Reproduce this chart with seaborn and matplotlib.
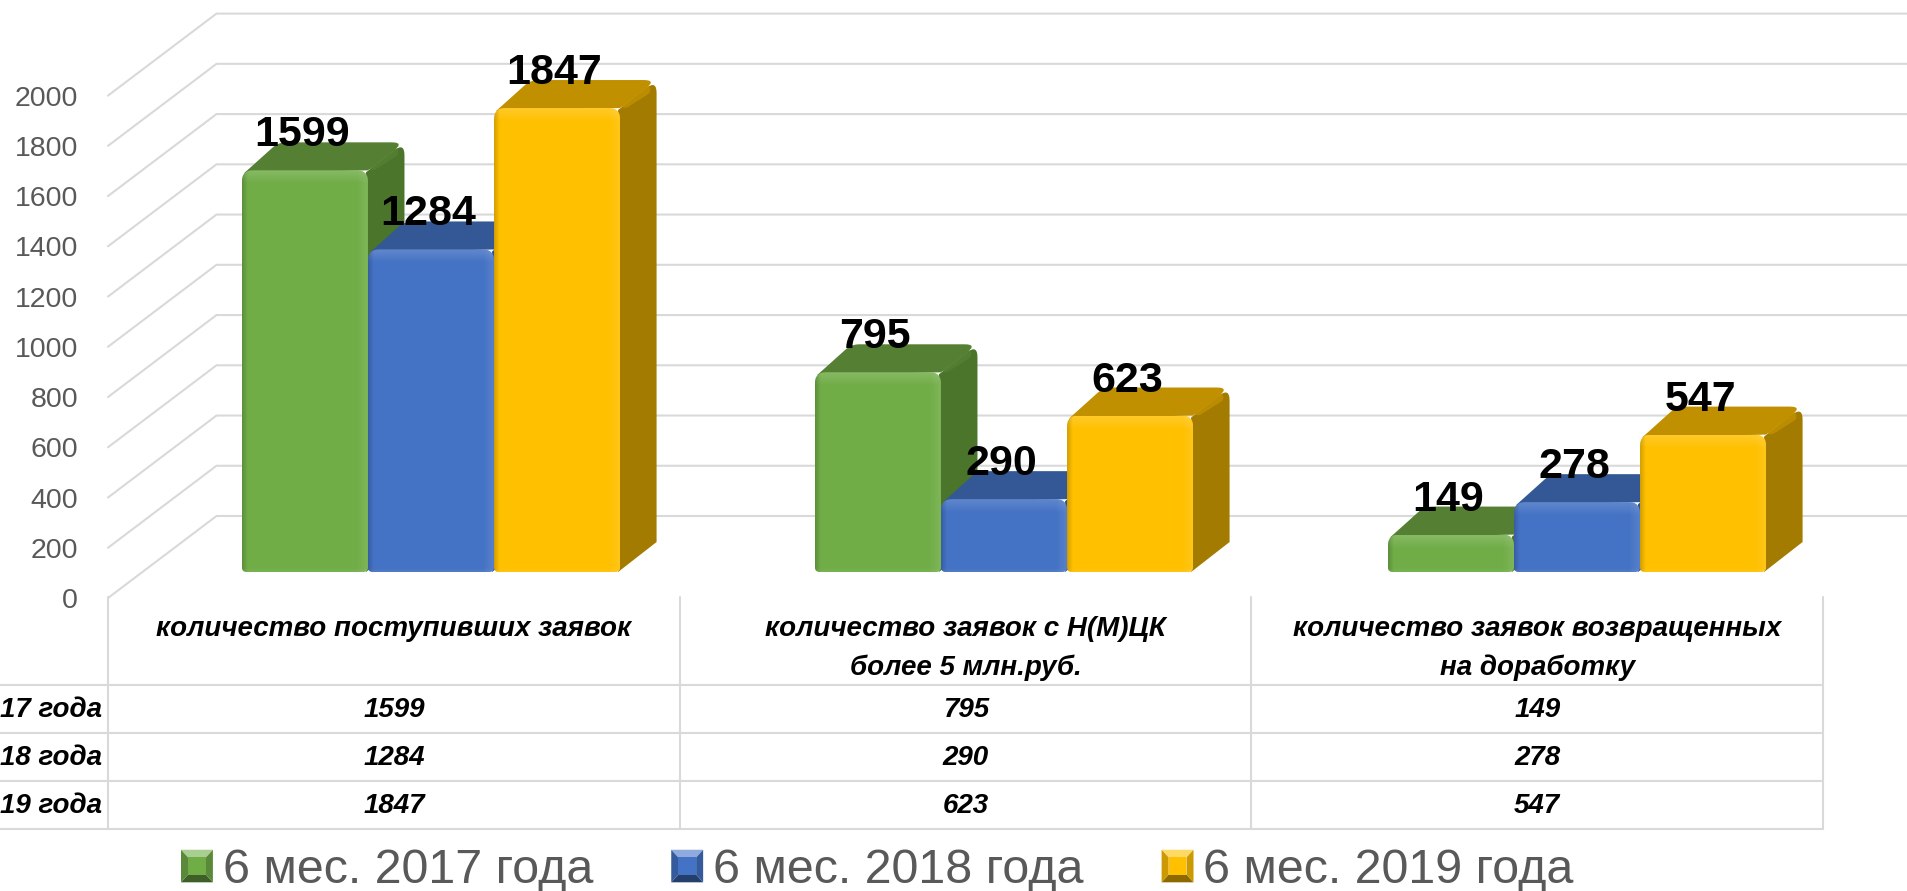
import numpy as np
import pandas as pd
import matplotlib
matplotlib.use("Agg")
import matplotlib.pyplot as plt
import seaborn as sns
from matplotlib.patches import Polygon, Rectangle
from matplotlib.legend_handler import HandlerBase
from matplotlib.colors import to_rgb

# ---------- data ----------
categories = ["количество поступивших заявок",
              "количество заявок с Н(М)ЦК\nболее 5 млн.руб.",
              "количество заявок возвращенных\nна доработку"]
series = ["6 мес. 2017 года", "6 мес. 2018 года", "6 мес. 2019 года"]
values_2017 = [1599, 795, 149]
values_2018 = [1284, 290, 278]
values_2019 = [1847, 623, 547]
y_ticks = [0, 200, 400, 600, 800, 1000, 1200, 1400, 1600, 1800, 2000]

colors = ["#70AD47", "#4472C4", "#FFC000"]
top_colors = ["#557F33", "#335895", "#C09000"]
side_colors = ["#4A752B", "#2F5597", "#A37B00"]

W, H = 1908, 891
sns.set_theme(style="white")
plt.rcParams["font.family"] = ["Liberation Sans", "DejaVu Sans"]

# ---------- geometry (pixels of the figure) ----------
CAT_PX = 573.0      # pixels per category
GROUP0_PX = 431.0   # centre of first group
BASE_PX = 572.0     # baseline of bars
VAL_PX = 0.2512     # pixels per value unit
DEPTH_X, DEPTH_Y = 36.5, 28.0
FRONT_X, FRONT_Y = 108.0, 598.0
BACK_X, BACK_Y = 216.5, 516.0

fig = plt.figure(figsize=(W / 100, H / 100), dpi=100, facecolor="white")
ax = fig.add_axes([0, 0, 1, 1], zorder=2)
ax.patch.set_alpha(0)

df = pd.DataFrame({
    "category": np.repeat(categories, 3),
    "period": series * 3,
    "value": [v for trio in zip(values_2017, values_2018, values_2019) for v in trio],
})
sns.barplot(data=df, x="category", y="value", hue="period", order=categories,
            hue_order=series, palette=colors, width=0.66, gap=0, dodge=True,
            saturation=1, legend=False, ax=ax, linewidth=0)

xlim = (-GROUP0_PX / CAT_PX, (W - GROUP0_PX) / CAT_PX)
ylim = ((BASE_PX - H) / VAL_PX, BASE_PX / VAL_PX)


def to_x(px):
    return (np.asarray(px, float) - GROUP0_PX) / CAT_PX


def to_v(py):
    return (BASE_PX - np.asarray(py, float)) / VAL_PX


def rounded(corners, radii, n=8):
    """Polygon vertices (in px) with rounded corners."""
    pts = []
    m = len(corners)
    for i in range(m):
        p = np.array(corners[i], float)
        a = np.array(corners[i - 1], float)
        b = np.array(corners[(i + 1) % m], float)
        r = radii[i]
        if r <= 0:
            pts.append(p)
            continue
        u = (a - p) / np.linalg.norm(a - p)
        w = (b - p) / np.linalg.norm(b - p)
        s, e = p + u * r, p + w * r
        for t in np.linspace(0, 1, n):
            pts.append((1 - t) ** 2 * s + 2 * (1 - t) * t * p + t ** 2 * e)
    return np.array(pts)


def px2data(pts):
    return np.column_stack([to_x(pts[:, 0]), to_v(pts[:, 1])])


def strip(x0, x1, y0, y1, color, a0, a1, horizontal, z, clip):
    """Gradient band (px box) fading from alpha a0 to a1."""
    n = 24
    ramp = np.linspace(a0, a1, n)
    img = np.zeros((1, n, 4)) if horizontal else np.zeros((n, 1, 4))
    img[..., :3] = to_rgb(color)
    img[..., 3] = ramp if horizontal else ramp.reshape(n, 1)
    im = ax.imshow(img, extent=(to_x(x0), to_x(x1), to_v(y1), to_v(y0)),
                   origin="upper", aspect="auto", zorder=z, interpolation="bilinear")
    im.set_clip_path(clip)


# ---------- back wall, gridlines ----------
for v in y_ticks:
    yf = FRONT_Y - v * VAL_PX
    yb = BACK_Y - v * VAL_PX
    ax.plot([to_x(FRONT_X), to_x(BACK_X), to_x(W)], [to_v(yf), to_v(yb), to_v(yb)],
            color="#D9D9D9", lw=1.5, zorder=1, solid_joinstyle="miter")

# ---------- 3-D bars ----------
for i, bar in enumerate(ax.patches):
    k = i // 3  # series index (seaborn orders the patches by hue)
    x0 = GROUP0_PX + bar.get_x() * CAT_PX
    x1 = x0 + bar.get_width() * CAT_PX
    val = bar.get_height()
    yt = BASE_PX - val * VAL_PX
    yb = BASE_PX
    z = 3 + k * 4

    # top and side faces
    r_top = min(11, (yb - yt) / 3)
    top = [(x0 + 2, yt + 3), (x0 + DEPTH_X, yt - DEPTH_Y), (x1 + DEPTH_X, yt - DEPTH_Y), (x1, yt)]
    ax.add_patch(Polygon(px2data(rounded(top, [0, 8, 13, 0])), closed=True,
                         fc=top_colors[k], ec="none", zorder=z))
    side = [(x1 - 2, yt + 2), (x1 + DEPTH_X, yt - DEPTH_Y), (x1 + DEPTH_X, yb - DEPTH_Y - 2), (x1 - 2, yb)]
    ax.add_patch(Polygon(px2data(rounded(side, [0, 13, 0, 0])), closed=True,
                         fc=side_colors[k], ec="none", zorder=z))
    # soft bevel between top and side
    ax.plot([to_x(x1 + 5), to_x(x1 + DEPTH_X - 11)], [to_v(yt - 5), to_v(yt - DEPTH_Y + 10)],
            color=top_colors[k], lw=7, alpha=0.85, zorder=z + 0.1, solid_capstyle="round")

    # front face drawn by seaborn, with rounded corners and bevel bands
    front = rounded([(x0, yt), (x1, yt), (x1, yb), (x0, yb)], [r_top, r_top, 5, 5])
    clip = Polygon(px2data(front), closed=True, transform=ax.transData)
    bar.set_zorder(z + 1)
    bar.set_clip_path(clip)
    strip(x0, x1, yt, yt + 14, "#FFFFFF", 0.16, 0.0, False, z + 1.1, clip)
    strip(x1 - 12, x1, yt, yb, "#FFFFFF", 0.0, 0.10, True, z + 1.2, clip)
    strip(x0, x0 + 6, yt, yb, "#000000", 0.18, 0.0, True, z + 1.3, clip)
    strip(x0, x1, yb - 4, yb, "#FFFFFF", 0.0, 0.08, False, z + 1.4, clip)

    ax.annotate(f"{val:.0f}", (to_x((x0 + x1) / 2), to_v(yt)),
                xytext=(-3 * 0.72, 35 * 0.72), textcoords="offset points",
                ha="center", va="center", fontsize=31, fontweight="bold",
                color="black", zorder=30)

ax.set_xlim(*xlim)
ax.set_ylim(*ylim)
ax.axis("off")

# ---------- value axis on the front plane ----------
yax = fig.add_axes([FRONT_X / W, (H - FRONT_Y) / H, 0.01, 2000 * VAL_PX / H], zorder=1)
yax.set_ylim(0, 2000)
yax.set_yticks(y_ticks)
yax.set_xticks([])
yax.patch.set_alpha(0)
for s in yax.spines.values():
    s.set_visible(False)
yax.tick_params(axis="y", length=0, pad=30 * 0.72, labelsize=20.5, labelcolor="#595959")

# ---------- data table ----------
tx = fig.add_axes([0, 0, 1, 1], zorder=3)
tx.set_xlim(0, W)
tx.set_ylim(H, 0)
tx.axis("off")
col_edges = [108, 680, 1251.5, 1823]
row_edges = [597, 685, 733, 781, 829]
grid = dict(color="#D9D9D9", lw=1.5)
for xe in col_edges:
    tx.plot([xe, xe], [row_edges[0], row_edges[-1]], **grid)
for ye in row_edges[1:]:
    tx.plot([0, col_edges[-1]], [ye, ye], **grid)
tkw = dict(ha="center", va="center", fontsize=20, fontweight="bold", fontstyle="italic",
           color="black")
for c, cat in enumerate(categories):
    xc = (col_edges[c] + col_edges[c + 1]) / 2
    for l, line in enumerate(cat.split("\n")):
        tx.text(xc, 629 + 39 * l, line, **tkw)
    for r, vals in enumerate([values_2017, values_2018, values_2019]):
        tx.text(xc, (row_edges[r + 1] + row_edges[r + 2]) / 2 + 1, str(vals[c]), **tkw)
for r, name in enumerate(series):
    tx.text(102, (row_edges[r + 1] + row_edges[r + 2]) / 2 + 1, name,
            **{**tkw, "ha": "right"})


# ---------- legend with bevelled keys ----------
class BevelHandler(HandlerBase):
    def create_artists(self, legend, orig, xd, yd, width, height, fontsize, trans):
        x0, y0, x1, y1 = -xd, -yd, -xd + width, -yd + height
        c = np.array(to_rgb(orig.get_facecolor()))
        m = min(width, height) * 0.22
        xa, xb = x0 + m, x1 - m
        ya, yb = y0 + m * 1.1, y1 - m * 1.1
        faces = [
            ([(x0, y1), (x1, y1), (xb, yb), (xa, yb)], c * 0.6 + 0.4),
            ([(x0, y0), (x1, y0), (xb, ya), (xa, ya)], c * 0.55),
            ([(x0, y0), (x0, y1), (xa, yb), (xa, ya)], c * 0.8),
            ([(x1, y0), (x1, y1), (xb, yb), (xb, ya)], c * 0.8),
            ([(xa, ya), (xb, ya), (xb, yb), (xa, yb)], c),
        ]
        return [Polygon(v, closed=True, fc=np.clip(col, 0, 1), ec="none", transform=trans)
                for v, col in faces]


handles = [Rectangle((0, 0), 1, 1, fc=col) for col in colors]
leg = tx.legend(handles, series, handler_map={Rectangle: BevelHandler()},
                loc="lower left", bbox_to_anchor=(181 / W, -2 / H), bbox_transform=fig.transFigure,
                ncol=3, frameon=False, fontsize=34.8, labelcolor="#595959", borderpad=0,
                borderaxespad=0, handlelength=0.66, handleheight=0.66, handletextpad=0.2,
                columnspacing=1.62)

fig.savefig("out.png", dpi=100)
